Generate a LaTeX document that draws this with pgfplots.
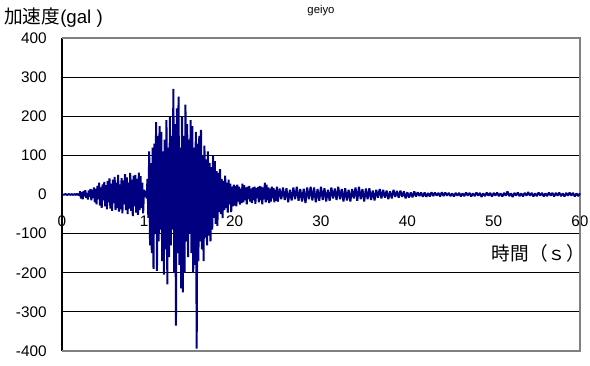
\documentclass[border=0pt]{standalone}
\usepackage{pgfplots}
\usepackage{pgfplotstable}
\pgfplotsset{compat=1.18}
\usepackage{fontspec}
\setmainfont{Liberation Sans}
\newfontfamily\jp{Noto Sans CJK JP}
\definecolor{navyline}{RGB}{0,0,128}
\definecolor{framegray}{RGB}{128,128,128}

% acceleration, 0.1 s steps from 0 to 25 s
\pgfplotstableread[row sep=\\]{
y\\
0\\0\\0\\0\\1\\0\\-1\\0\\1\\0\\
-1\\1\\0\\-1\\1\\0\\-1\\2\\-1\\1\\
-3\\8\\-10\\6\\-12\\9\\-5\\11\\-8\\4\\
-13\\10\\-6\\14\\-15\\12\\-9\\18\\-20\\15\\
-25\\22\\-12\\30\\-28\\18\\-34\\26\\-15\\32\\
-30\\24\\-38\\35\\-20\\41\\-36\\28\\-42\\38\\
-22\\45\\-40\\30\\-35\\50\\-44\\26\\-38\\42\\
-48\\36\\-25\\52\\-40\\44\\-50\\30\\-36\\55\\
-42\\38\\-55\\48\\-30\\50\\-46\\40\\-52\\56\\
-40\\47\\-35\\30\\-48\\12\\-6\\8\\-10\\40\\
-60\\110\\-130\\80\\-150\\120\\-190\\130\\-100\\185\\
-195\\150\\-120\\175\\-90\\160\\-170\\110\\-205\\140\\
-140\\190\\-230\\120\\-160\\200\\-130\\150\\-90\\270\\
-200\\180\\-335\\220\\-150\\250\\-180\\120\\-240\\200\\
-250\\150\\-200\\230\\-120\\180\\-160\\140\\-100\\190\\
-150\\175\\-200\\120\\-180\\160\\-394\\130\\-170\\150\\
-120\\165\\-140\\100\\-170\\125\\-110\\90\\-130\\110\\
-105\\80\\-120\\70\\-90\\100\\-60\\85\\-75\\60\\
-80\\55\\-45\\65\\-50\\40\\-60\\35\\-40\\48\\
-35\\30\\-46\\38\\-25\\28\\-45\\20\\-30\\25\\
-28\\22\\-30\\25\\-18\\20\\-26\\15\\-22\\28\\
-20\\24\\-15\\18\\-25\\20\\-12\\22\\-18\\15\\
-22\\18\\-14\\20\\-24\\16\\-10\\19\\-20\\22\\
-15\\20\\-25\\18\\-12\\30\\-20\\25\\-15\\18\\
-22\\15\\-18\\20\\-10\\16\\-20\\12\\-16\\20\\
-18\\
}\dataA

% acceleration, 0.2 s steps from 25 to 60 s
\pgfplotstableread[row sep=\\]{
y\\
-18\\15\\-12\\18\\-14\\
16\\-20\\12\\-15\\18\\
-12\\20\\-16\\14\\-18\\
15\\-22\\18\\-12\\20\\
-15\\18\\-20\\14\\-16\\
20\\-14\\16\\-18\\12\\
-16\\18\\-10\\15\\-14\\
20\\-12\\14\\-18\\16\\
-15\\12\\-18\\14\\-10\\
18\\-16\\20\\-12\\14\\
-18\\15\\-12\\16\\-14\\
10\\-15\\12\\-8\\14\\
-10\\12\\-8\\10\\-12\\
8\\-10\\12\\-6\\9\\
-8\\10\\-6\\8\\-10\\
6\\-8\\5\\-7\\8\\
-5\\6\\-4\\5\\-6\\
5\\-6\\4\\-5\\6\\
-4\\5\\-3\\4\\-5\\
6\\-4\\5\\-3\\4\\
-4\\3\\-5\\4\\-3\\
4\\-5\\3\\-4\\5\\
-3\\4\\-5\\3\\-4\\
5\\-3\\4\\-6\\3\\
-4\\5\\-3\\4\\-5\\
4\\-3\\5\\-4\\3\\
-5\\4\\-3\\8\\-4\\
3\\-6\\4\\-3\\5\\
-4\\3\\-5\\4\\-3\\
6\\-3\\4\\-5\\3\\
-4\\5\\-3\\4\\-5\\
3\\-4\\5\\-3\\4\\
-5\\4\\-3\\5\\-4\\
3\\-5\\4\\-3\\5\\
-3\\4\\-5\\3\\-4\\
3\\
}\dataB

\begin{document}
\begin{tikzpicture}
\path[use as bounding box] (-46.5pt,-10.5pt) rectangle (396pt,263.25pt);
\begin{axis}[
  at={(0,0)}, anchor=south west,
  scale only axis,
  width=388.5pt, height=234.75pt,
  xmin=0, xmax=60, ymin=-400, ymax=400,
  enlargelimits=false,
  axis x line=middle,
  axis y line=left,
  hide obscured x ticks=false,
  hide obscured y ticks=false,
  x axis line style={-, black, line width=0.6pt},
  y axis line style={-, black, line width=1.1pt},
  xtick={0,10,20,30,40,50,60},
  xticklabels={0,10,20,30,40,50,60},
  ytick={-400,-300,-200,-100,0,100,200,300,400},
  yticklabels={-400,-300,-200,-100,0,100,200,300,400},
  xtick style={draw=none},
  ytick style={black, line width=0.6pt},
  ytick align=inside,
  major tick length=3pt,
  ymajorgrids,
  grid style={black, line width=0.6pt},
  tick label style={font=\fontsize{11.5}{13}\selectfont},
  xticklabel style={yshift=-11pt},
  yticklabel style={xshift=-8pt},
  clip=false,
]
\draw[framegray, line width=1.8pt] (rel axis cs:0,1) -- (rel axis cs:1,1) -- (rel axis cs:1,0) -- (rel axis cs:0,0);
\addplot[navyline, line width=1.5pt, no marks, line join=bevel] table[x expr=\coordindex*0.1, y=y] {\dataA};
\addplot[navyline, line width=1.5pt, no marks, line join=bevel] table[x expr=25+\coordindex*0.2, y=y] {\dataB};
\node[anchor=east, inner sep=0pt, font=\fontsize{14}{16}\selectfont] at ([xshift=4pt]axis cs:60,-150) {\jp 時間（ｓ）};
\node[anchor=west, inner sep=0pt, font=\fontsize{14}{16}\selectfont] at ([xshift=-43.5pt, yshift=15pt]rel axis cs:0,1) {{\jp 加速度}(gal )};
\node[inner sep=0pt, font=\fontsize{8.5}{10}\selectfont] at ([yshift=20.5pt]rel axis cs:0.5,1) {geiyo};
\end{axis}
\end{tikzpicture}
\end{document}
